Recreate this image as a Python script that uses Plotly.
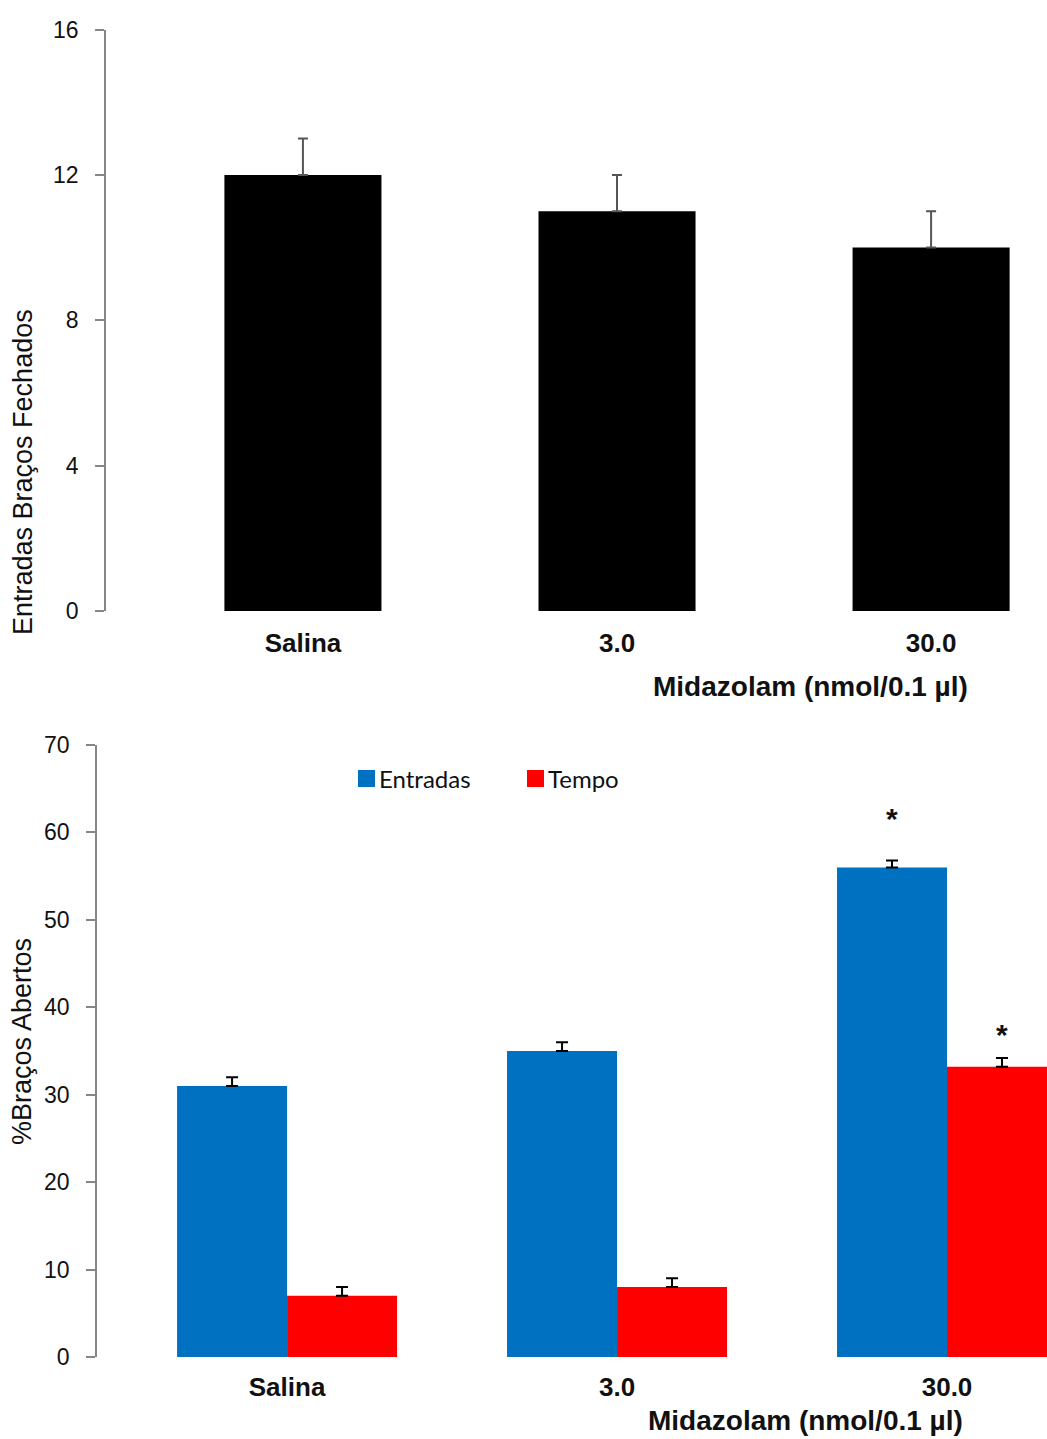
import plotly.graph_objects as go

# Doses of midazolam (nmol/0.1 µl) shown as categories
doses = ["Salina", "3.0", "30.0"]

# Closed-arm entries (mean and SEM)
fechados_mean = [12, 11, 10]
fechados_sem = [1, 1, 1]

# Percentage of open-arm entries and time (mean and SEM)
entradas_mean = [31, 35, 56]
entradas_sem = [1, 1, 0.8]
tempo_mean = [7, 8, 33.2]
tempo_sem = [1, 1, 1]

# Groups marked as significantly different from saline
sig_entradas = [False, False, True]
sig_tempo = [False, False, True]

W, H = 1047, 1439
FONT = "Liberation Sans, Arial, sans-serif"
AXIS_GREY = "#868686"
BLUE = "#0070C0"
RED = "#FF0000"


def px_x(x):
    return x / W


def px_y(y):
    return 1 - y / H


fig = go.Figure()

# Top panel: closed-arm entries
fig.add_trace(go.Bar(
    x=doses, y=fechados_mean, xaxis="x", yaxis="y",
    width=0.5, marker=dict(color="black", line=dict(width=0)),
    error_y=dict(type="data", symmetric=False, array=fechados_sem,
                 arrayminus=[0] * len(doses), color="#555555",
                 thickness=2, width=5),
    showlegend=False,
))

# Bottom panel: open-arm percentages, two bars per dose
fig.add_trace(go.Bar(
    x=doses, y=entradas_mean, xaxis="x2", yaxis="y2", name="Entradas",
    width=1 / 3, offset=-1 / 3, marker=dict(color=BLUE, line=dict(width=0)),
    error_y=dict(type="data", symmetric=False, array=entradas_sem,
                 arrayminus=[0] * len(doses), color="black",
                 thickness=2, width=6),
    showlegend=False,
))
fig.add_trace(go.Bar(
    x=doses, y=tempo_mean, xaxis="x2", yaxis="y2", name="Tempo",
    width=1 / 3, offset=0, marker=dict(color=RED, line=dict(width=0)),
    error_y=dict(type="data", symmetric=False, array=tempo_sem,
                 arrayminus=[0] * len(doses), color="black",
                 thickness=2, width=6),
    showlegend=False,
))

tickfont = dict(family=FONT, size=23, color="#111111")
catfont = dict(family=FONT, size=26, color="#111111", weight="bold")

yaxis_common = dict(
    showline=True, linecolor=AXIS_GREY, linewidth=1.5,
    ticks="outside", ticklen=9, tickwidth=1.5, tickcolor=AXIS_GREY,
    showgrid=False, zeroline=False, tickfont=tickfont,
    ticklabelstandoff=12, automargin=False,
)
xaxis_common = dict(
    type="category", showline=False, ticks="", showgrid=False,
    zeroline=False, tickfont=catfont, automargin=False,
)

fig.update_layout(
    template="none",
    width=W, height=H,
    margin=dict(l=0, r=0, t=0, b=0, autoexpand=False),
    paper_bgcolor="white", plot_bgcolor="white",
    xaxis=dict(domain=[px_x(106), 1], range=[-0.627, 2.369],
               anchor="y", ticklabelstandoff=14, **xaxis_common),
    yaxis=dict(domain=[px_y(611), px_y(29.5)], range=[0, 16],
               tickvals=[0, 4, 8, 12, 16], anchor="x", **yaxis_common),
    xaxis2=dict(domain=[px_x(97), 1], range=[-0.576, 2.303],
                anchor="y2", ticklabelstandoff=12, **xaxis_common),
    yaxis2=dict(domain=[px_y(1357), px_y(745)], range=[0, 70],
                tickvals=list(range(0, 71, 10)), anchor="x2", **yaxis_common),
)

annotations = []

# Axis titles
title_font = dict(family=FONT, size=27, color="#111111")
annotations.append(dict(
    text="Entradas Braços Fechados", xref="paper", yref="paper",
    x=px_x(23), y=px_y(472), textangle=-90, showarrow=False,
    xanchor="center", yanchor="middle", font=title_font,
))
annotations.append(dict(
    text="%Braços Abertos", xref="paper", yref="paper",
    x=px_x(22), y=px_y(1042), textangle=-90, showarrow=False,
    xanchor="center", yanchor="middle", font=title_font,
))
xtitle_font = dict(family=FONT, size=28, color="#111111", weight="bold")
annotations.append(dict(
    text="Midazolam (nmol/0.1 µl)", xref="paper", yref="paper",
    x=px_x(810), y=px_y(686), showarrow=False,
    xanchor="center", yanchor="middle", font=xtitle_font,
))
annotations.append(dict(
    text="Midazolam (nmol/0.1 µl)", xref="paper", yref="paper",
    x=px_x(805), y=px_y(1420), showarrow=False,
    xanchor="center", yanchor="middle", font=xtitle_font,
))

# Significance markers above the bars
star_font = dict(family=FONT, size=30, color="#111111", weight="bold")
for i, flag in enumerate(sig_entradas):
    if flag:
        annotations.append(dict(
            text="*", xref="x2", yref="y2", x=i - 1 / 6,
            y=entradas_mean[i] + entradas_sem[i], yshift=42,
            showarrow=False, xanchor="center", yanchor="middle",
            font=star_font,
        ))
for i, flag in enumerate(sig_tempo):
    if flag:
        annotations.append(dict(
            text="*", xref="x2", yref="y2", x=i + 1 / 6,
            y=tempo_mean[i] + tempo_sem[i], yshift=23,
            showarrow=False, xanchor="center", yanchor="middle",
            font=star_font,
        ))

# Legend for the bottom panel
legend_font = dict(family="Lato, sans-serif", size=24, color="#111111")
shapes = []
for label, color, x0, x1 in [("Entradas", BLUE, 358, 375), ("Tempo", RED, 527, 544)]:
    shapes.append(dict(
        type="rect", xref="paper", yref="paper",
        x0=px_x(x0), x1=px_x(x1), y0=px_y(787), y1=px_y(770),
        fillcolor=color, line=dict(width=0),
    ))
    annotations.append(dict(
        text=label, xref="paper", yref="paper",
        x=px_x(x1 + 2), y=px_y(778), showarrow=False,
        xanchor="left", yanchor="middle", font=legend_font,
    ))

fig.update_layout(annotations=annotations, shapes=shapes)

fig.write_html("out.html")
